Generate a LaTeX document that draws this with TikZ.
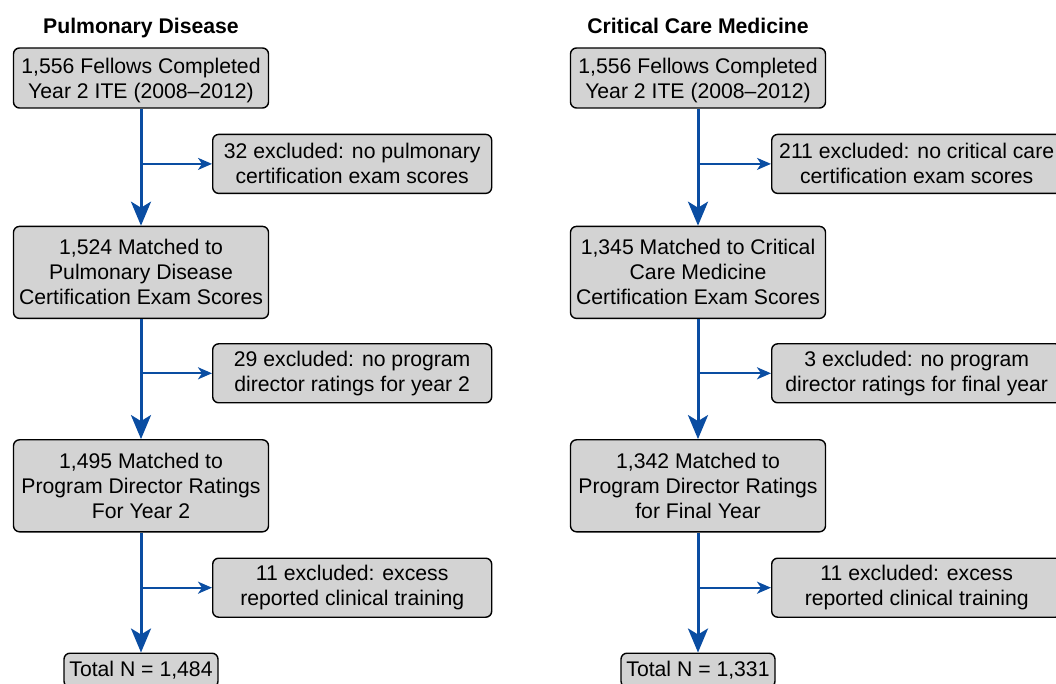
\documentclass[tikz,border=0pt]{standalone}
\usepackage{fontspec}
\setmainfont{Liberation Sans}
\usetikzlibrary{positioning,arrows.meta}
\definecolor{flowblue}{RGB}{10,77,162}
\definecolor{boxgrey}{RGB}{211,211,211}

\begin{document}
\begin{tikzpicture}[
    x=1pt, y=1pt,
    block/.style={draw, rounded corners=3pt, fill=boxgrey, align=center, font=\fontsize{10.6}{12.5}\selectfont, inner sep=2pt, minimum width=127.5pt, line width=0.7pt},
    twoline/.style={block, minimum height=30pt},
    threeline/.style={block, minimum height=46pt},
    excl/.style={block, minimum width=139.5pt, minimum height=29.5pt},
    total/.style={block, minimum width=77pt, minimum height=17pt},
    heading/.style={font=\fontsize{10.6}{12.5}\selectfont\bfseries, inner sep=0pt, text depth=0pt},
    flow/.style={draw=flowblue, line width=1.5pt, -{Stealth[length=12pt, width=10pt, inset=3pt, fill=flowblue]}},
    side/.style={draw=flowblue, line width=1pt, -{Stealth[length=7pt, width=6pt, inset=2pt, fill=flowblue]}}
]
\useasboundingbox (0,0) rectangle (528,-342);

% pulmonary disease
\node[twoline] (p1) at (70.5,-39) {1,556 Fellows Completed \\ Year 2 ITE \smash{(2008--2012)}};
\node[heading, above=6.5pt of p1] (ptitle) {Pulmonary Disease};
\node[threeline, below=58.5pt of p1] (p2) {1,524 Matched to \\ Pulmonary Disease \\ Certification Exam Scores};
\node[threeline, below=60pt of p2] (p3) {1,495 Matched to \\ Program Director Ratings \\ For Year 2};
\node[total, below=60pt of p3] (ptot) {Total N = 1,484};
\node[excl, below right=12.5pt and 35.5pt of p1.south] (pe1) {32 excluded: no pulmonary \\ certification exam scores};
\node[excl, below right=12pt and 35.5pt of p2.south] (pe2) {29 excluded: no program \\ director ratings for year 2};
\node[excl, below right=12.5pt and 35.5pt of p3.south] (pe3) {11 excluded: excess \\ reported clinical training};
\coordinate (pb1) at (p1.south |- pe1.west);
\coordinate (pb2) at (p2.south |- pe2.west);
\coordinate (pb3) at (p3.south |- pe3.west);
\draw[flow] (p1) -- (p2);
\draw[flow] (p2) -- (p3);
\draw[flow] (p3) -- (ptot);
\draw[side] (pb1) -- (pe1);
\draw[side] (pb2) -- (pe2);
\draw[side] (pb3) -- (pe3);

% critical care medicine
\node[twoline] (c1) at (349,-39) {1,556 Fellows Completed \\ Year 2 ITE \smash{(2008--2012)}};
\node[heading, above=6.5pt of c1] (ctitle) {Critical Care Medicine};
\node[threeline, below=58.5pt of c1] (c2) {1,345 Matched to Critical \\ Care Medicine \\ Certification Exam Scores};
\node[threeline, below=60pt of c2] (c3) {1,342 Matched to \\ Program Director Ratings \\ for Final Year};
\node[total, below=60pt of c3] (ctot) {Total N = 1,331};
\node[excl, minimum width=145pt, below right=12.5pt and 36.5pt of c1.south] (ce1) {211 excluded: no critical care \\ certification exam scores};
\node[excl, minimum width=145pt, below right=12pt and 36.5pt of c2.south] (ce2) {3 excluded: no program \\ director ratings for final year};
\node[excl, minimum width=145pt, below right=12.5pt and 36.5pt of c3.south] (ce3) {11 excluded: excess \\ reported clinical training};
\coordinate (cb1) at (c1.south |- ce1.west);
\coordinate (cb2) at (c2.south |- ce2.west);
\coordinate (cb3) at (c3.south |- ce3.west);
\draw[flow] (c1) -- (c2);
\draw[flow] (c2) -- (c3);
\draw[flow] (c3) -- (ctot);
\draw[side] (cb1) -- (ce1);
\draw[side] (cb2) -- (ce2);
\draw[side] (cb3) -- (ce3);
\end{tikzpicture}
\end{document}
